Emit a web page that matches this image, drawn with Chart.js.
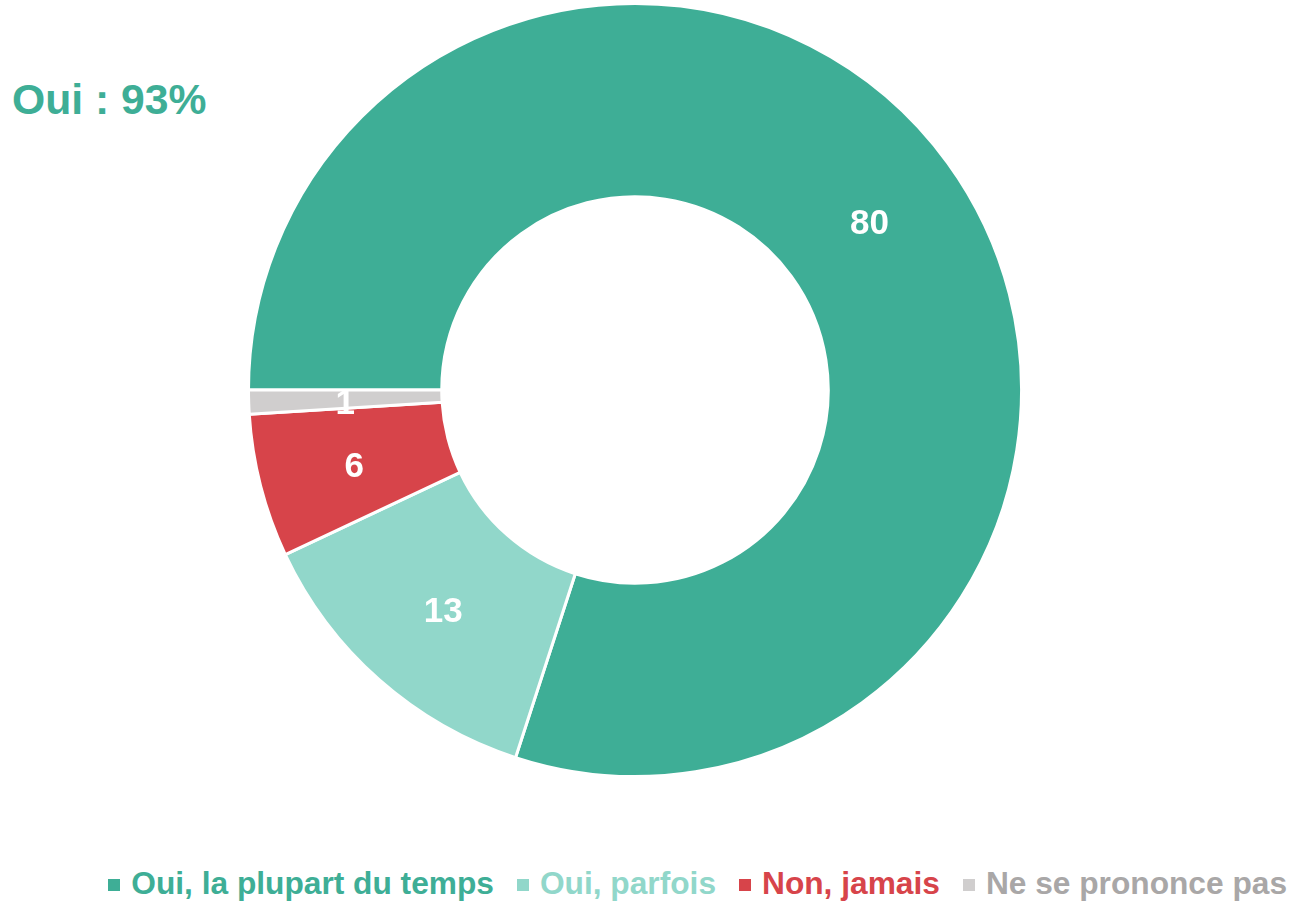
<!DOCTYPE html>
<html>
<head>
<meta charset="utf-8">
<script src="https://cdn.jsdelivr.net/npm/chart.js@4/dist/chart.umd.min.js"></script>
<style>
  html, body { margin: 0; padding: 0; background: #fff; }
  body { width: 1293px; height: 902px; position: relative; overflow: hidden; font-family: "Liberation Sans", Arial, sans-serif; }
  #wrap { position: absolute; left: 247px; top: 2px; width: 776px; height: 776px; }
  #title { position: absolute; left: 12px; top: 78px; font-weight: bold; font-size: 42.7px; line-height: 42.7px; color: #3EAE96; white-space: nowrap; }
  #legend { position: absolute; right: 6px; top: 868px; display: flex; flex-direction: row; white-space: nowrap; }
  .item { display: flex; align-items: center; margin-left: 23px; font-weight: bold; font-size: 31.7px; line-height: 31.7px; }
  .item:first-child { margin-left: 0; }
  .box { width: 12px; height: 12px; margin-right: 11px; position: relative; top: 1px; }
</style>
</head>
<body>
<div id="title">Oui : 93%</div>
<div id="wrap"><canvas id="c" width="776" height="776"></canvas></div>
<div id="legend"></div>
<script>
const categories = ["Oui, la plupart du temps", "Oui, parfois", "Non, jamais", "Ne se prononce pas"];
const values = [80, 13, 6, 1];
const sliceColors = ["#3EAE96", "#91D7CA", "#D7444A", "#D0CECE"];
const legendTextColors = ["#3EAE96", "#91D7CA", "#D7444A", "#A9A7A7"];
const titleText = "Oui : 93%";

const valueLabels = {
  id: 'valueLabels',
  afterDatasetsDraw(chart) {
    const ctx = chart.ctx;
    const meta = chart.getDatasetMeta(0);
    ctx.save();
    ctx.fillStyle = '#FFFFFF';
    ctx.font = 'bold 35px "Liberation Sans", Arial, sans-serif';
    ctx.textAlign = 'center';
    ctx.textBaseline = 'middle';
    meta.data.forEach((arc, i) => {
      const p = arc.tooltipPosition();
      ctx.fillText(String(chart.data.datasets[0].data[i]), p.x, p.y + 5);
    });
    ctx.restore();
  }
};

const htmlLegend = {
  id: 'htmlLegend',
  afterUpdate(chart) {
    const el = document.getElementById('legend');
    el.innerHTML = '';
    chart.data.labels.forEach((lab, i) => {
      const item = document.createElement('div');
      item.className = 'item';
      const box = document.createElement('span');
      box.className = 'box';
      box.style.background = chart.data.datasets[0].backgroundColor[i];
      const t = document.createElement('span');
      t.textContent = lab;
      t.style.color = legendTextColors[i];
      item.appendChild(box);
      item.appendChild(t);
      el.appendChild(item);
    });
  }
};

document.getElementById('title').textContent = titleText;

new Chart(document.getElementById('c'), {
  type: 'doughnut',
  data: {
    labels: categories,
    datasets: [{
      data: values,
      backgroundColor: sliceColors,
      borderColor: '#FFFFFF',
      borderWidth: 3,
      hoverOffset: 0
    }]
  },
  options: {
    responsive: false,
    animation: false,
    rotation: -90,
    cutout: '50%',
    layout: { padding: 0 },
    plugins: {
      legend: { display: false },
      tooltip: { enabled: false },
      title: { display: false }
    }
  },
  plugins: [valueLabels, htmlLegend]
});
</script>
</body>
</html>
